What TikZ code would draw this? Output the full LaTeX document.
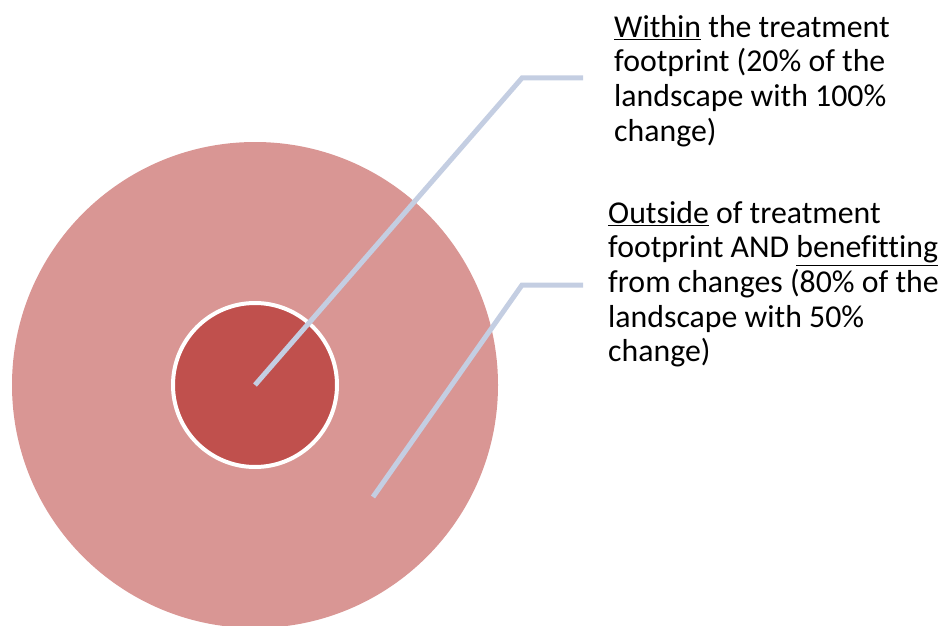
\documentclass[tikz,border=0pt]{standalone}
\usepackage{fontspec}
\setmainfont[Ligatures={NoCommon}]{Carlito}
\definecolor{outerred}{HTML}{D99694}
\definecolor{innerred}{HTML}{C0504D}
\definecolor{leaderblue}{HTML}{C4CEE2}
\begin{document}
\begin{tikzpicture}[x=1pt, y=-1pt,
    leader/.style={leaderblue, line width=5pt, line join=miter},
    callout/.style={anchor=north west, inner sep=0pt, align=left, font=\fontsize{31.8}{34.6}\selectfont}]
    \useasboundingbox (0,0) rectangle (948,626);

    \fill[outerred] (255,385) circle (243);
    \node[circle, fill=innerred, draw=white, line width=4pt, minimum size=164pt, inner sep=0pt] (core) at (255,385) {};

    \coordinate (bend1) at (522,78);
    \coordinate (end1) at (583,78);
    \coordinate (ring) at (373,497);
    \coordinate (bend2) at (522,285);
    \coordinate (end2) at (583,285);

    \draw[leader] (core.center) -- (bend1) -- (end1);
    \draw[leader] (ring) -- (bend2) -- (end2);

    \node[callout] (within) at (614,15) {\underline{Within} the treatment\\footprint (20\% of the\\landscape with 100\%\\change)};
    \node[callout] (outside) at (608,201) {\underline{Outside} of treatment\\footprint AND \underline{benefitting}\\from changes (80\% of the\\landscape with 50\%\\change)};
\end{tikzpicture}
\end{document}
